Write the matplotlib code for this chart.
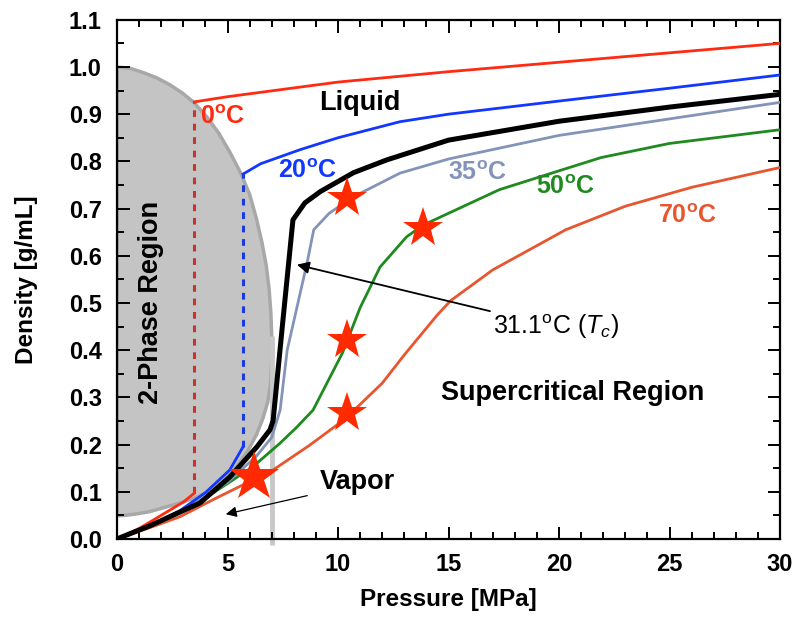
import matplotlib.pyplot as plt
from matplotlib.patches import Polygon
from matplotlib.ticker import MultipleLocator

plt.rcParams['font.family'] = ['Liberation Sans', 'DejaVu Sans']
plt.rcParams['mathtext.fontset'] = 'custom'
plt.rcParams['mathtext.rm'] = 'Liberation Sans:bold'
plt.rcParams['mathtext.bf'] = 'Liberation Sans:bold'
plt.rcParams['mathtext.it'] = 'Liberation Sans:italic'

# CO2 isotherms: pressure [MPa] vs density [g/mL]
# 0 C: vapor branch, then liquid branch after condensation
p0_vap = [0, 1, 2, 3, 3.5]
d0_vap = [0, 0.022, 0.05, 0.078, 0.097]
p0_liq = [3.5, 5, 10, 15, 20, 25, 30]
d0_liq = [0.926, 0.937, 0.968, 0.99, 1.01, 1.03, 1.05]

# 20 C
p20_vap = [0, 1.5, 2.85, 4, 5.1, 5.7]
d20_vap = [0, 0.028, 0.06, 0.098, 0.146, 0.195]
p20_liq = [5.7, 6.5, 8.3, 10, 12.8, 15, 20.4, 25, 30]
d20_liq = [0.773, 0.795, 0.825, 0.85, 0.884, 0.9, 0.93, 0.955, 0.983]

# critical isotherm 31.1 C
p31 = [0, 1.5, 2.85, 3.75, 5.1, 6.33, 6.92, 7.06, 7.5, 7.96, 8.5, 9.2, 10.7,
       12.2, 15, 20, 25, 30]
d31 = [0, 0.028, 0.057, 0.076, 0.131, 0.195, 0.231, 0.25, 0.46, 0.676, 0.712,
       0.736, 0.776, 0.803, 0.845, 0.885, 0.915, 0.942]

# 35 C
p35 = [0, 1.5, 2.85, 5, 6.3, 7.0, 7.38, 7.7, 8.6, 8.9, 9.6, 10.7, 12.8, 15,
       20, 25, 30]
d35 = [0, 0.027, 0.055, 0.12, 0.175, 0.215, 0.273, 0.40, 0.585, 0.655, 0.69,
       0.725, 0.775, 0.805, 0.855, 0.89, 0.925]

# 50 C
p50 = [0, 1.5, 2.85, 4.34, 6.15, 7.38, 8.14, 8.87, 10.2, 11.0, 11.9, 13.1,
       13.85, 15, 17.3, 20, 21.9, 25, 30]
d50 = [0, 0.027, 0.057, 0.097, 0.153, 0.203, 0.237, 0.273, 0.394, 0.49, 0.576,
       0.64, 0.665, 0.69, 0.74, 0.78, 0.808, 0.838, 0.867]

# 70 C
p70 = [0, 1.5, 2.85, 4.34, 7.06, 8.73, 10.2, 11, 12, 13, 14.5, 15.1, 17, 20.3,
       23, 26, 30]
d70 = [0, 0.024, 0.047, 0.083, 0.146, 0.199, 0.25, 0.285, 0.33, 0.39, 0.475,
       0.505, 0.57, 0.655, 0.705, 0.745, 0.787]

# outline of the two-phase dome
dome_p = [0, 0.6, 1.2, 1.8, 2.4, 2.95, 3.45, 4.05, 4.6, 5.1, 5.6, 6.0, 6.3,
          6.55, 6.75, 6.88, 6.96, 7.0, 7.0, 6.95, 6.82, 6.6, 6.3, 5.9, 5.2,
          4.35, 3.6, 2.85, 2.1, 1.5, 0.9, 0.4, 0]
dome_d = [1.0, 0.997, 0.988, 0.977, 0.962, 0.945, 0.926, 0.895, 0.86, 0.82,
          0.775, 0.73, 0.68, 0.63, 0.58, 0.53, 0.48, 0.43, 0.38, 0.33, 0.29,
          0.255, 0.22, 0.185, 0.14, 0.106, 0.088, 0.076, 0.066, 0.058, 0.053,
          0.05, 0.049]

# highlighted state points
star_p = [10.4, 10.4, 13.85, 10.4]
star_d = [0.723, 0.422, 0.659, 0.267]
big_star_p = [6.2]
big_star_d = [0.131]

c_red = '#ff2a12'
c_red_dash = '#c8342a'
c_blue = '#1238ff'
c_blue_dash = '#1a3ae0'
c_slate = '#8494b8'
c_green = '#1f8a1f'
c_orange = '#e8552f'
c_star = '#ff2a00'

fig = plt.figure(figsize=(7.96, 6.18), dpi=100)
ax = fig.add_axes([0.147, 0.128, 0.833, 0.84])

dome = Polygon(list(zip(dome_p, dome_d)), closed=True, facecolor='#c4c4c4',
               edgecolor='#a8a8a8', linewidth=2.5, zorder=1)
ax.add_patch(dome)
ax.plot([7.0, 7.0], [-0.013, 0.43], color='#c8c8c8', lw=3.5, zorder=1.5,
        clip_on=False, solid_capstyle='butt')

lw = 2.0
ax.plot(p70, d70, color=c_orange, lw=lw, zorder=3)
ax.plot(p50, d50, color=c_green, lw=lw, zorder=3)
ax.plot(p35, d35, color=c_slate, lw=lw, zorder=3)
ax.plot(p31, d31, color='black', lw=3.6, zorder=4)
ax.plot(p20_vap, d20_vap, color=c_blue, lw=lw, zorder=3.5)
ax.plot(p20_liq, d20_liq, color=c_blue, lw=lw, zorder=3)
ax.plot([p20_vap[-1], p20_liq[0]], [d20_vap[-1], d20_liq[0]], color=c_blue_dash,
        lw=2.2, ls=(0, (2.2, 2.2)), zorder=3)
ax.plot(p0_vap, d0_vap, color=c_red, lw=lw, zorder=3.5)
ax.plot(p0_liq, d0_liq, color=c_red, lw=lw, zorder=3)
ax.plot([p0_vap[-1], p0_liq[0]], [d0_vap[-1], d0_liq[0]], color=c_red_dash,
        lw=2.2, ls=(0, (2.2, 2.2)), zorder=3)

ax.plot(star_p, star_d, ls='none', marker='*', ms=30, color=c_star,
        markeredgewidth=0, zorder=5)
ax.plot(big_star_p, big_star_d, ls='none', marker='*', ms=38, color=c_star,
        markeredgewidth=0, zorder=5)

lab = dict(fontsize=18, fontweight='bold', ha='center', va='center')
ax.text(4.75, 0.894, '0$^\\mathrm{o}$C', color=c_red, **lab)
ax.text(8.6, 0.78, '20$^\\mathrm{o}$C', color=c_blue, **lab)
ax.text(16.3, 0.775, '35$^\\mathrm{o}$C', color=c_slate, **lab)
ax.text(20.3, 0.745, '50$^\\mathrm{o}$C', color=c_green, **lab)
ax.text(25.8, 0.684, '70$^\\mathrm{o}$C', color=c_orange, **lab)

big = dict(fontsize=19.5, fontweight='bold', ha='center', va='center')
ax.text(11.0, 0.924, 'Liquid', **big)
ax.text(20.6, 0.31, 'Supercritical Region', **big)
ax.text(1.55, 0.5, '2-Phase Region', rotation=90, **big)

ax.text(10.9, 0.121, 'Vapor', **big)
ax.annotate('', xy=(4.8, 0.051), xytext=(8.73, 0.093),
            arrowprops=dict(arrowstyle='-|>', color='black', lw=0.9,
                            mutation_scale=16), zorder=6)

ax.annotate('31.1$^\\mathregular{o}$C ($T_c$)', xy=(8.14, 0.581),
            xytext=(17.0, 0.449), fontsize=18, ha='left', va='center',
            arrowprops=dict(arrowstyle='-|>', color='black', lw=1.3,
                            mutation_scale=18, shrinkA=0, shrinkB=0),
            zorder=6)

ax.set_xlim(0, 30)
ax.set_ylim(0, 1.1)
ax.xaxis.set_major_locator(MultipleLocator(5))
ax.xaxis.set_minor_locator(MultipleLocator(1))
ax.yaxis.set_major_locator(MultipleLocator(0.1))
ax.yaxis.set_minor_locator(MultipleLocator(0.05))
ax.yaxis.set_major_formatter(plt.FormatStrFormatter('%.1f'))
ax.tick_params(which='both', direction='in', top=True, right=True, width=1.4)
ax.tick_params(which='major', length=9, labelsize=17)
ax.tick_params(axis='y', which='major', pad=11)
ax.tick_params(axis='x', which='major', pad=10)
ax.tick_params(which='minor', length=5)
for t in ax.get_xticklabels() + ax.get_yticklabels():
    t.set_fontweight('bold')
for s in ax.spines.values():
    s.set_linewidth(1.6)

ax.set_xlabel('Pressure [MPa]', fontsize=17.5, fontweight='bold', labelpad=9)
ax.set_ylabel('Density [g/mL]', fontsize=17.5, fontweight='bold', labelpad=22)

fig.savefig('out.png', dpi=100)
